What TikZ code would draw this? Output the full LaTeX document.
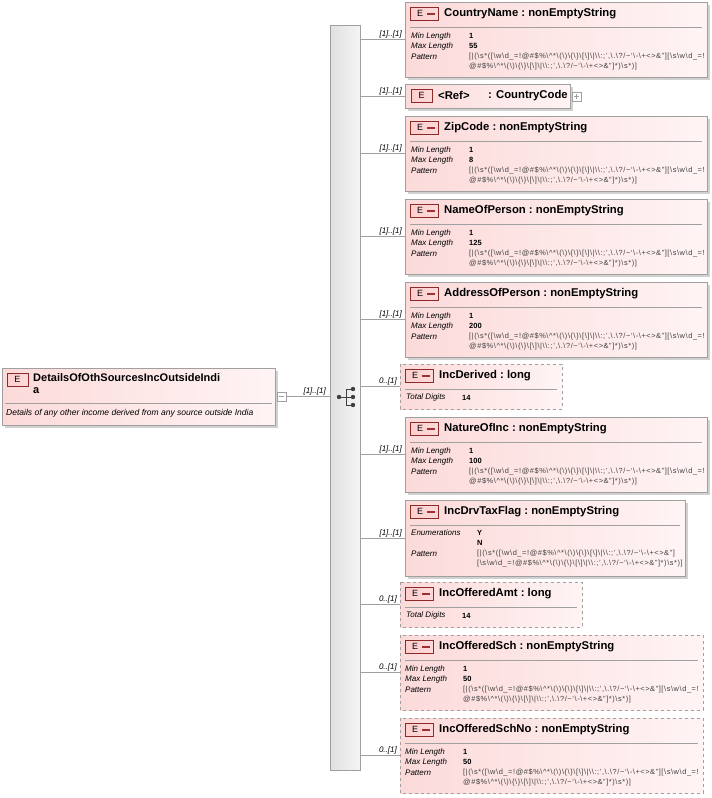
\documentclass[tikz,border=0pt]{standalone}
\usepackage{fontspec}
\setmainfont{Liberation Sans}
\newcommand\bs{\textbackslash}
\newcommand\pa{[|(\bs s*([\bs w\bs d\_=!@\#\$\%\bs\^{}*\bs(\bs)\bs\{\bs\}\bs[\bs]\bs|\bs\bs:;',\bs.\bs?/\textasciitilde`\bs-\bs+<>\&"]}
\newcommand\pb{[\bs s\bs w\bs d\_=!}
\newcommand\pc{@\#\$\%\bs\^{}*\bs(\bs)\bs\{\bs\}\bs[\bs]\bs|\bs\bs:;',\bs.\bs?/\textasciitilde`\bs-\bs+<>\&"]*)\bs s*)]}
\definecolor{bord}{RGB}{160,160,160}
\definecolor{pinkL}{RGB}{252,218,218}
\definecolor{pinkR}{RGB}{255,244,244}
\definecolor{badgeR}{RGB}{200,60,60}
\tikzset{
  lbl/.style={anchor=west,inner sep=0pt,font=\fontsize{8}{9}\selectfont\itshape},
  val/.style={anchor=west,inner sep=0pt,font=\fontsize{7.5}{9}\selectfont\bfseries},
  pat/.style={anchor=west,inner sep=0pt,font=\fontsize{7.4}{8}\selectfont\addfontfeature{LetterSpace=8},text=black!75},
  ttl/.style={anchor=west,inner sep=0pt,font=\fontsize{11.3}{12}\selectfont\bfseries},
  mult/.style={anchor=south east,inner sep=1pt,font=\fontsize{8}{9}\selectfont\itshape},
  conn/.style={draw=bord,line width=0.6pt},
}
\newcommand\elem[8]{
  \ifnum#8=1 \fill[black!18] (#2+3,#3+3) rectangle ++(#4,#5);\fi
  \path[left color=pinkL,right color=pinkR,draw=bord,line width=0.7pt,#6] (#2,#3) rectangle ++(#4,#5);
  \coordinate (#1) at (#2,#3+#5/2);
  \path[left color=pinkL!60!red!40,right color=pinkL,draw=badgeR!70!black,line width=0.6pt] (#2+5,#3+5) rectangle ++(28,13);
  \node[inner sep=0pt,font=\fontsize{9}{10}\selectfont] at (#2+15,#3+11.5) {E};
  \fill[badgeR!80!black] (#2+22,#3+10.5) rectangle ++(8,2.5);
  \node[ttl] at (#2+39,#3+11.5) {#7};
  \draw[bord,line width=0.6pt] (#2+5,#3+25) -- (#2+#4-5,#3+25);
}
\newcommand\lenrows[4]{
  \node[lbl] at (#1+6,#2+34) {Min Length};
  \node[val] at (#1+64,#2+34) {#3};
  \node[lbl] at (#1+6,#2+44) {Max Length};
  \node[val] at (#1+64,#2+44) {#4};
  \node[lbl] at (#1+6,#2+55) {Pattern};
  \node[pat] at (#1+64,#2+55) {\pa\pb};
  \node[pat] at (#1+64,#2+65) {\pc};
}
\newcommand\link[2]{
  \draw[conn] (seq.east |- #1) -- (#1);
  \node[mult] at ([xshift=-2pt]#1) {#2};
}
\begin{document}
\begin{tikzpicture}[x=1pt,y=-1pt]
\useasboundingbox (0,0) rectangle (712,798);
\node[left color=black!12,right color=black!4,draw=bord,line width=0.7pt,minimum width=30pt,minimum height=745pt,inner sep=0pt] (seq) at (345,397.5) {};
\fill[black!18] (5,371) rectangle ++(273,57);
\path[left color=pinkL,right color=pinkR,draw=bord,line width=0.7pt] (2,368) rectangle ++(273,57);
\node[inner sep=0pt,minimum width=0pt] (root) at (275,396.5) {};
\path[left color=pinkL!60!red!40,right color=pinkL,draw=badgeR!70!black,line width=0.6pt] (7,373) rectangle ++(21,13);
\node[inner sep=0pt,font=\fontsize{9}{10}\selectfont] at (17.5,379.5) {E};
\node[ttl,anchor=north west,align=left,font=\fontsize{11}{12}\selectfont\bfseries] at (33,373) {DetailsOfOthSourcesIncOutsideIndi\\a};
\draw[bord,line width=0.6pt] (5,403) -- (272,403);
\node[lbl,font=\fontsize{8.5}{9}\selectfont\itshape] at (6,413.5) {Details of any other income derived from any source outside India};
\draw[bord,fill=white] (277,392) rectangle ++(9,9);
\draw[bord] (279,396.5) -- (284,396.5);
\draw[conn] (286,396.5) -- (seq.west |- root);
\node[mult] at (327,396.5) {[1]..[1]};
\begin{scope}[black!75,line width=1pt]
\fill (339,397) circle (2.2);
\draw (339,397) -- (346,397);
\draw (346,389) -- (346,405);
\draw (346,389) -- (353,389) (346,397) -- (353,397) (346,405) -- (353,405);
\fill (353,389) circle (2.2) (353,397) circle (2.2) (353,405) circle (2.2);
\end{scope}
\elem{cn}{405}{2}{302}{75}{solid}{CountryName\ :\ nonEmptyString}{1}
\lenrows{405}{2}{1}{55}
\fill[black!18] (408,87) rectangle ++(165,24);
\path[left color=pinkL,right color=pinkR,draw=bord,line width=0.7pt] (405,84) rectangle ++(165,24);
\coordinate (cc) at (405,96);
\path[left color=pinkL!60!red!40,right color=pinkL,draw=badgeR!70!black,line width=0.6pt] (411,89) rectangle ++(21,13);
\node[inner sep=0pt,font=\fontsize{9}{10}\selectfont] at (421.5,95.5) {E};
\node[ttl] at (438,95.5) {<Ref>};
\node[ttl] at (488,95.5) {: CountryCode};
\draw[bord,fill=white] (572,92) rectangle ++(9,9);
\draw[bord] (574,96.5) -- (579,96.5) (576.5,94) -- (576.5,99);
\elem{zc}{405}{116}{302}{75}{solid}{ZipCode\ :\ nonEmptyString}{1}
\lenrows{405}{116}{1}{8}
\elem{np}{405}{199}{302}{75}{solid}{NameOfPerson\ :\ nonEmptyString}{1}
\lenrows{405}{199}{1}{125}
\elem{ap}{405}{282}{302}{75}{solid}{AddressOfPerson\ :\ nonEmptyString}{1}
\lenrows{405}{282}{1}{200}
\elem{id}{400}{364}{162}{45}{dashed}{IncDerived\ :\ long}{0}
\node[lbl] at (406,397.5) {Total Digits};
\node[val] at (462,397.5) {14};
\elem{ni}{405}{417}{302}{75}{solid}{NatureOfInc\ :\ nonEmptyString}{1}
\lenrows{405}{417}{1}{100}
\elem{tf}{405}{500}{280}{76}{solid}{IncDrvTaxFlag\ :\ nonEmptyString}{1}
\node[lbl] at (411,533) {Enumerations};
\node[val] at (477,533) {Y};
\node[val] at (477,543) {N};
\node[lbl] at (411,554) {Pattern};
\node[pat] at (477,554) {\pa};
\node[pat] at (477,564) {\pb\pc};
\elem{oa}{400}{582}{182}{45}{dashed}{IncOfferedAmt\ :\ long}{0}
\node[lbl] at (406,615.5) {Total Digits};
\node[val] at (462,615.5) {14};
\elem{os}{400}{635}{303}{75}{dashed}{IncOfferedSch\ :\ nonEmptyString}{0}
\lenrows{399}{635}{1}{50}
\elem{on}{400}{718}{303}{75}{dashed}{IncOfferedSchNo\ :\ nonEmptyString}{0}
\lenrows{399}{718}{1}{50}
\link{cn}{[1]..[1]}
\link{cc}{[1]..[1]}
\link{zc}{[1]..[1]}
\link{np}{[1]..[1]}
\link{ap}{[1]..[1]}
\link{id}{0..[1]}
\link{ni}{[1]..[1]}
\link{tf}{[1]..[1]}
\link{oa}{0..[1]}
\link{os}{0..[1]}
\link{on}{0..[1]}
\end{tikzpicture}
\end{document}
